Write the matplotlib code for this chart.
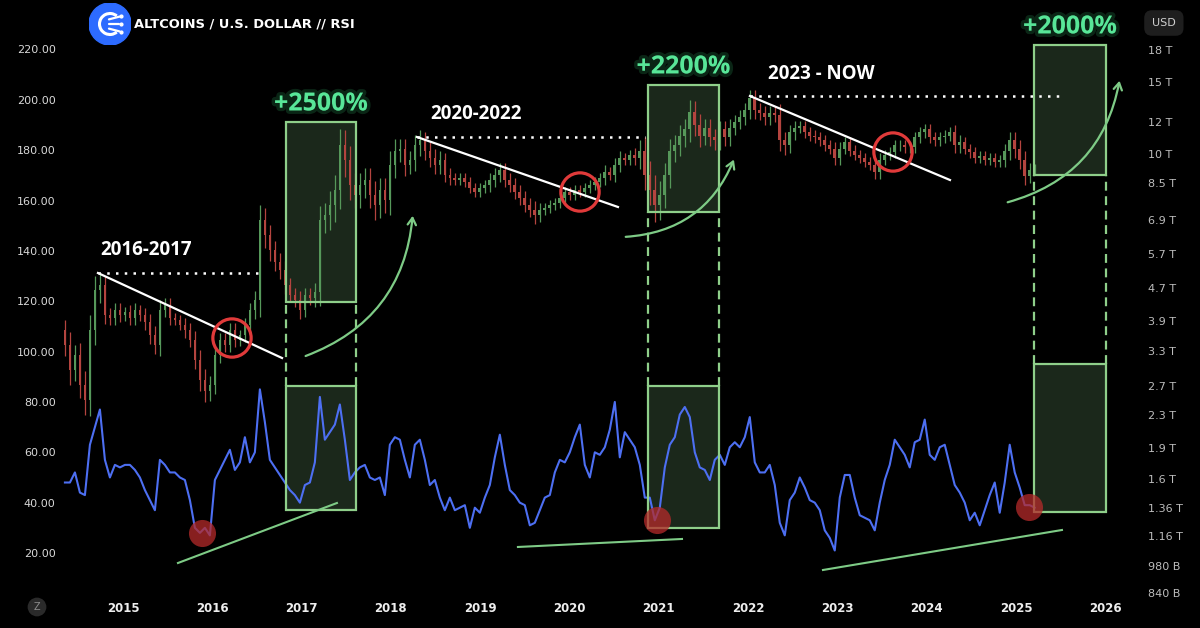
import numpy as np
import matplotlib
matplotlib.use("Agg")
import matplotlib.pyplot as plt
from matplotlib.patches import Rectangle, FancyArrowPatch, Circle, Arc
from matplotlib.ticker import NullLocator
import matplotlib.patheffects as pe

# ~3-week candles, closes in trillions USD (right log axis)
first_open = 3.70
closes = [
    3.40, 2.96, 3.21, 2.72, 2.50, 3.70, 4.65, 4.78, 4.03, 3.96,
    4.15, 4.03, 4.10, 3.96, 4.15, 4.03, 3.87, 3.60, 3.40, 4.15,
    4.27, 3.96, 3.92, 3.81, 3.70, 3.50, 3.13, 2.80, 2.62, 2.72,
    3.21, 3.50, 3.40, 3.70, 3.50, 3.60, 3.81, 4.15, 4.39, 6.90,
    6.34, 5.83, 5.45, 5.21, 4.78, 4.52, 4.39, 4.15, 4.52, 4.44,
    4.60, 6.90, 7.10, 7.51, 8.17, 10.5, 9.68, 8.41, 7.95, 8.41,
    8.64, 7.95, 7.51, 8.17, 7.72, 9.41, 10.2, 10.3, 9.41, 9.68,
    10.5, 10.8, 10.2, 9.79, 9.41, 9.68, 8.89, 8.74, 8.64, 8.74,
    8.55, 8.27, 8.08, 8.27, 8.41, 8.64, 8.89, 9.15, 8.64, 8.41,
    8.08, 7.81, 7.51, 7.30, 7.10, 7.30, 7.38, 7.51, 7.59, 7.81,
    8.08, 7.95, 8.17, 8.08, 8.27, 8.41, 8.55, 8.74, 9.05, 8.89,
    9.41, 9.79, 9.68, 9.95, 9.79, 10.2, 8.89, 8.17, 7.51, 7.95,
    8.89, 10.2, 10.5, 11.1, 11.5, 12.7, 11.8, 11.1, 11.6, 11.0,
    10.8, 11.5, 11.0, 11.6, 12.0, 12.3, 12.8, 13.7, 12.8, 12.6,
    12.3, 12.6, 12.5, 10.8, 10.5, 11.3, 11.6, 11.7, 11.3, 11.1,
    11.0, 10.8, 10.5, 10.3, 9.79, 10.3, 10.7, 10.2, 9.95, 9.79,
    9.57, 9.41, 9.05, 9.68, 9.95, 10.1, 10.5, 10.5, 10.4, 10.4,
    11.0, 11.3, 11.5, 11.0, 10.8, 11.0, 11.1, 11.3, 10.5, 10.7,
    10.3, 10.1, 9.79, 9.90, 9.68, 9.79, 9.57, 9.68, 10.2, 10.8,
    10.3, 9.68, 8.84, 9.15, 9.20,
]
# wick length beyond the body, in percent
wick = [
    6, 8, 6, 7, 8, 9, 8, 7, 5, 4,
    4, 4, 3, 4, 4, 3, 4, 5, 5, 6,
    4, 4, 3, 3, 4, 4, 5, 6, 6, 5,
    5, 4, 4, 4, 4, 3, 4, 4, 5, 9,
    7, 6, 5, 5, 5, 4, 4, 5, 4, 4,
    5, 8, 7, 8, 9, 10, 9, 8, 7, 7,
    7, 7, 8, 7, 7, 8, 7, 6, 6, 5,
    6, 6, 5, 5, 5, 5, 4, 4, 3, 3,
    3, 3, 3, 3, 3, 4, 4, 4, 4, 4,
    4, 4, 4, 4, 5, 4, 3, 3, 3, 3,
    3, 3, 3, 3, 3, 3, 3, 3, 4, 3,
    4, 4, 3, 3, 4, 6, 8, 8, 9, 8,
    7, 7, 6, 6, 6, 7, 6, 6, 5, 5,
    5, 5, 5, 5, 4, 4, 4, 5, 5, 4,
    4, 4, 4, 6, 5, 4, 4, 3, 3, 3,
    3, 3, 3, 3, 4, 4, 3, 3, 3, 3,
    3, 3, 4, 4, 3, 3, 3, 3, 3, 3,
    3, 3, 3, 3, 3, 3, 3, 3, 4, 4,
    3, 3, 3, 3, 3, 3, 3, 3, 4, 5,
    5, 5, 5, 4, 3,
]
rsi = [
    48, 48, 52, 44, 43, 63, 70, 77, 57, 50,
    55, 54, 55, 55, 53, 50, 45, 41, 37, 57,
    55, 52, 52, 50, 49, 41, 30, 28, 30, 27,
    49, 53, 57, 61, 53, 56, 66, 56, 60, 85,
    72, 57, 54, 51, 48, 45, 43, 40, 47, 48,
    56, 82, 65, 68, 71, 79, 65, 49, 52, 54,
    55, 50, 49, 50, 43, 63, 66, 65, 57, 50,
    63, 65, 57, 47, 49, 42, 37, 42, 37, 38,
    39, 30, 38, 36, 42, 47, 58, 67, 55, 45,
    43, 40, 39, 31, 32, 37, 42, 43, 52, 57,
    56, 60, 66, 71, 55, 50, 60, 59, 62, 69,
    80, 58, 68, 65, 62, 55, 42, 42, 33, 38,
    54, 63, 66, 75, 78, 74, 60, 54, 53, 49,
    57, 59, 55, 62, 64, 62, 66, 74, 56, 52,
    52, 55, 47, 32, 27, 41, 44, 50, 46, 41,
    40, 37, 29, 26, 21, 42, 51, 51, 42, 35,
    34, 33, 29, 40, 49, 55, 65, 62, 59, 54,
    64, 65, 73, 59, 57, 62, 63, 55, 47, 44,
    40, 33, 36, 31, 37, 43, 48, 36, 48, 63,
    52, 46, 39, 39, 38,
]
years = np.linspace(2014.35, 2025.21, len(closes))

left_ticks = [220, 200, 180, 160, 140, 120, 100, 80, 60, 40, 20]
right_ticks = [18, 15, 12, 10, 8.5, 6.9, 5.7, 4.7, 3.9, 3.3, 2.7, 2.3,
               1.9, 1.6, 1.36, 1.16, 0.98, 0.84]
right_labels = ["18 T", "15 T", "12 T", "10 T", "8.5 T", "6.9 T", "5.7 T",
                "4.7 T", "3.9 T", "3.3 T", "2.7 T", "2.3 T", "1.9 T", "1.6 T",
                "1.36 T", "1.16 T", "980 B", "840 B"]
year_ticks = list(range(2015, 2027))

# annotations (left scale units)
box_x = [(2016.825, 2017.609), (2020.879, 2021.674), (2025.202, 2026.008)]
box_price = [(119.7, 191.2), (155.45, 205.9), (170.15, 221.79)]
box_rsi = [(37.08, 86.33), (29.93, 86.33), (36.29, 95.07)]
gains = ["+2500%", "+2200%", "+2000%"]
periods = ["2016-2017", "2020-2022", "2023 - NOW"]
period_pos = [(2014.742, 140.36), (2018.438, 194.38), (2022.223, 210.27)]
trend_start = [(2014.720, 131.22), (2018.292, 185.24), (2022.021, 201.53)]
trend_end = [(2016.781, 97.46), (2020.543, 157.44), (2024.261, 168.16)]
dotted_end = [2016.512, 2020.846, 2025.493]
breakouts = [(2016.221, 105.40), (2020.118, 163.40), (2023.623, 179.28)]
rsi_lows = [(2015.885, 27.95), (2020.980, 33.11), (2025.146, 38.27)]
rsi_support = [((2015.616, 16.03), (2017.396, 39.86)),
               ((2019.423, 22.39), (2021.260, 25.57)),
               ((2022.839, 13.25), (2025.515, 29.14))]
arrows = [((2017.016, 97.86), (2018.247, 155.05)),
          ((2020.599, 145.52), (2021.853, 177.30)),
          ((2024.877, 159.03), (2026.165, 208.68))]

GREEN_EDGE = "#8fcf8a"
BOX_FILL = "#1b281b"
LIGHT_GREEN = "#7ecb86"

fig = plt.figure(figsize=(12, 6.28), dpi=100, facecolor="black")
ax = fig.add_axes([0, 30 / 628, 1130 / 1200, 598 / 628])
ax2 = ax.twinx()
ax.set_zorder(2)
ax2.set_zorder(1)
ax.patch.set_visible(False)
ax2.set_facecolor("black")

ax.set_xlim(2013.623, 2026.277)
ax.set_ylim(2.125, 239.66)
ax2.set_yscale("log")
ax2.set_ylim(0.8166, 23.86)

for a in (ax, ax2):
    for s in a.spines.values():
        s.set_visible(False)

ax.set_yticks(left_ticks)
ax.set_yticklabels([f"{v:.2f}" for v in left_ticks])
ax.tick_params(axis="y", length=0, pad=-40, labelcolor="#d8d8d8", labelsize=8)
ax.set_xticks(year_ticks)
ax.set_xticklabels([str(y) for y in year_ticks], fontweight="bold")
ax.tick_params(axis="x", length=0, pad=3, labelcolor="#eeeeee", labelsize=8.5)
ax2.set_yticks(right_ticks)
ax2.set_yticklabels(right_labels)
ax2.yaxis.set_minor_locator(NullLocator())
ax2.tick_params(axis="y", length=0, pad=13, labelcolor="#bdbdbd", labelsize=8)

# candles
opens = [first_open] + closes[:-1]
o = np.array(opens)
c = np.array(closes)
w = np.array(wick) / 100
cols = np.where(c >= o, "#56985a", "#b4443f")
hi = np.maximum(o, c) * (1 + w)
lo = np.minimum(o, c) * (1 - w)
ax2.vlines(years, lo, hi, colors=cols, linewidth=0.9, zorder=3)
ax2.bar(years, c - o, bottom=o, width=0.03, color=cols, linewidth=0, zorder=3)

# boxes
for (x0, x1), (pb, pt), (rb, rt) in zip(box_x, box_price, box_rsi):
    for yb, yt in ((pb, pt), (rb, rt)):
        ax2.add_patch(Rectangle((x0, yb), x1 - x0, yt - yb, transform=ax.transData,
                                facecolor=BOX_FILL, edgecolor="none", zorder=1))
        ax.add_patch(Rectangle((x0, yb), x1 - x0, yt - yb, fill=False,
                               edgecolor=GREEN_EDGE, linewidth=1.6, zorder=5))
    for xx in (x0, x1):
        ax.plot([xx, xx], [rt, pb], color=GREEN_EDGE, lw=1.6,
                linestyle=(0, (4, 2.5)), zorder=5)

for (x0, x1), (pb, pt), g in zip(box_x, box_price, gains):
    ax.annotate(g, ((x0 + x1) / 2, pt), xytext=(0, 13), textcoords="offset points",
                ha="center", va="center", color="#58e698", fontsize=18,
                fontweight="bold", family="Open Sans", zorder=6,
                path_effects=[pe.Stroke(linewidth=5, foreground="#3ccf7a", alpha=0.18),
                              pe.Normal()])

# rsi
ax.plot(years, rsi, color="#4d6ff2", lw=1.5, zorder=3)

# trend structure
for (xs, ys), (xe, ye), xd in zip(trend_start, trend_end, dotted_end):
    ax.plot([xs, xe], [ys, ye], color="white", lw=1.6, zorder=6)
    ax.plot([xs, xd], [ys, ys], color="white", lw=1.8,
            linestyle=(0, (1, 2.5)), zorder=6)

for txt, (xp, yp) in zip(periods, period_pos):
    ax.text(xp, yp, txt, ha="left", va="center", color="white", fontsize=13.5,
            fontweight="bold", family="Open Sans", zorder=6)

bx, by = zip(*breakouts)
ax.scatter(bx, by, s=760, facecolors="none", edgecolors="#e03a3a",
           linewidths=2.3, zorder=7)
lx, ly = zip(*rsi_lows)
ax.scatter(lx, ly, s=380, color="#b52a2a", alpha=0.75, linewidths=0, zorder=7)

for (p0, p1) in rsi_support:
    ax.plot([p0[0], p1[0]], [p0[1], p1[1]], color=LIGHT_GREEN, lw=1.5, zorder=5)

for (p0, p1) in arrows:
    ax.add_patch(FancyArrowPatch(p0, p1, connectionstyle="arc3,rad=0.32",
                                 arrowstyle="->,head_length=5,head_width=3",
                                 color=LIGHT_GREEN, lw=1.6, zorder=6))

# header
la = fig.add_axes([89 / 1200, 1 - 45 / 628, 42 / 1200, 42 / 628])
la.set_xlim(-1, 1)
la.set_ylim(-1, 1)
la.axis("off")
la.add_patch(Circle((0, 0), 1, color="#2d6bff"))
la.add_patch(Arc((0.0, 0), 1.0, 1.0, theta1=50, theta2=310, color="white", lw=2.2))
for yy in (0.22, 0.0, -0.22):
    la.plot([-0.05, 0.45], [yy, yy * 1.6], color="white", lw=1.6, solid_capstyle="round")
    la.plot([0.5], [yy * 1.7], "o", color="white", ms=2)
fig.text(134 / 1200, 1 - 24 / 628, "ALTCOINS / U.S. DOLLAR // RSI", color="white",
         fontsize=9.4, fontweight="bold", ha="left", va="center")

fig.text(1152 / 1200, 1 - 23 / 628, "USD", color="#d0d0d0", fontsize=8,
         ha="left", va="center",
         bbox=dict(boxstyle="round,pad=0.7", fc="#1e1e1e", ec="none"))
fig.text(37 / 1200, 1 - 607 / 628, "Z", color="#8a8a8a", fontsize=7,
         ha="center", va="center",
         bbox=dict(boxstyle="circle,pad=0.45", fc="#2a2a2a", ec="none"))

fig.savefig("out.png", dpi=100, facecolor="black")
